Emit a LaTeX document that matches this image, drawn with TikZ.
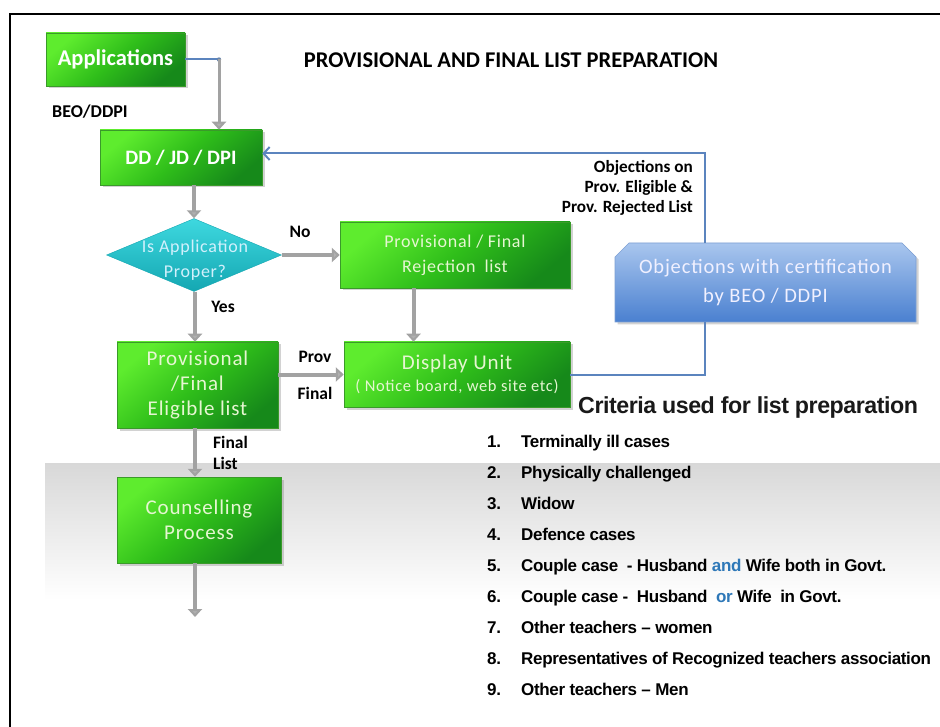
\documentclass[tikz,border=0pt]{standalone}
\usepackage{fontspec}
\setmainfont{Carlito}
\newfontfamily\boxfont{Carlito}[LetterSpace=4]
\newfontfamily\listfont{Liberation Sans}[LetterSpace=-2]
\usetikzlibrary{shapes.geometric,shapes.misc,arrows.meta,shadows,calc}

\definecolor{gTop}{HTML}{5EEC2E}
\definecolor{gMid}{HTML}{2FBE1A}
\definecolor{gBot}{HTML}{16891A}
\definecolor{gEdge}{HTML}{3A9A2A}
\definecolor{gText}{HTML}{E6F6D2}
\definecolor{cTop}{HTML}{3ED8DF}
\definecolor{cBot}{HTML}{14A7B2}
\definecolor{bTop}{HTML}{A9C6EE}
\definecolor{bBot}{HTML}{4A80D0}
\definecolor{bEdge}{HTML}{7C9FD4}
\definecolor{lineblue}{HTML}{5B84BE}
\definecolor{arrowgray}{HTML}{A2A2A2}
\definecolor{andblue}{HTML}{2E78B8}
\definecolor{bandgray}{HTML}{D8D8D8}

\begin{document}
\begin{tikzpicture}[x=1pt,y=-1pt,
  boxshadow/.style={drop shadow={opacity=0.35,shadow xshift=2.5pt,shadow yshift=-2.5pt}},
  gbox/.style={rectangle, draw=gEdge, line width=0.5pt,
    top color=gTop, bottom color=gBot, middle color=gMid, shading angle=40,
    boxshadow, inner sep=0pt, align=center,
    font=\boxfont\fontsize{21}{25}\selectfont, text=gText},
  gboxbold/.style={gbox, font=\bfseries\fontsize{22.5}{25}\selectfont, text=white},
  decision/.style={diamond, inner sep=0pt, draw=cBot, line width=0.4pt,
    top color=cTop, bottom color=cBot},
  objbox/.style={chamfered rectangle, chamfered rectangle corners={north west,north east},
    chamfered rectangle xsep=7pt, chamfered rectangle ysep=7pt,
    draw=bEdge, line width=0.6pt, top color=bTop, bottom color=bBot,
    boxshadow, inner sep=0pt, align=center,
    font=\boxfont\fontsize{20.5}{29}\selectfont, text=white!94!blue},
  garrow/.style={draw=arrowgray, line width=4pt,
    -{Triangle[width=14pt,length=8pt,fill=arrowgray!85!white]}},
  bline/.style={draw=lineblue, line width=2pt},
  flowlabel/.style={font=\bfseries\fontsize{17.5}{21}\selectfont, text=black, inner sep=0pt},
  listnum/.style={anchor=base west, inner sep=0pt, font=\listfont\bfseries\fontsize{17}{20}\selectfont},
  listitem/.style={anchor=base west, inner sep=0pt, font=\listfont\bfseries\fontsize{17}{20}\selectfont}
]
\useasboundingbox (0,0) rectangle (940,727);
\fill[white] (0,0) rectangle (940,727);

% soft grey band behind the lower part
\shade[top color=bandgray, bottom color=white] (45,463) rectangle (940,600);

% frame
\draw[line width=2pt] (10,727) -- (10,14) -- (940,14);

% title
\node[font=\bfseries\fontsize{22.5}{26}\selectfont, inner sep=0pt] (title) at (511,60)
  {PROVISIONAL AND FINAL LIST PREPARATION};

% flowchart boxes
\node[gboxbold, minimum width=139pt, minimum height=53pt] (app) at (115.5,59.5) {Applications};
\node[flowlabel, anchor=west, font=\bfseries\fontsize{18}{20}\selectfont] (beo) at (52,112) {BEO/DDPI};
\node[gboxbold, minimum width=162pt, minimum height=55pt, font=\bfseries\fontsize{20.5}{25}\selectfont] (dd) at (181,157.5) {DD / JD / DPI};
\node[decision, minimum width=175pt, minimum height=73pt] (dia) at (194,255) {};
\node[align=center, inner sep=0pt, font=\boxfont\fontsize{18}{25}\selectfont, text=white!82!cyan] (diatext) at (195,260.5) {Is Application\\Proper?};
\node[gbox, minimum width=230pt, minimum height=66pt, font=\boxfont\fontsize{18}{25}\selectfont] (rej) at (455,255) {Provisional / Final\\Rejection\enspace list};
\node[gbox, minimum width=161pt, minimum height=86pt] (elig) at (197.5,385) {Provisional\\/Final\\Eligible list};
\node[gbox, minimum width=226pt, minimum height=65pt] (disp) at (457,374.5)
  {Display Unit\\[-3pt]{\fontsize{16.5}{20}\selectfont( Notice board, web site etc)}};
\node[objbox, minimum width=301pt, minimum height=79pt] (obj) at (765.5,282.5)
  {Objections with certification\\by BEO / DDPI};
\node[gbox, minimum width=164pt, minimum height=86pt] (couns) at (199,520) {Counselling\\Process};

% connector coordinates
\coordinate (ja) at (219,59.5);
\coordinate (objlow) at ($(obj.south west)!0.3!(obj.south east)$);
\coordinate (objhigh) at (objlow |- obj.north);
\coordinate (rejout) at ($(rej.south west)!0.32!(rej.south east)$);
\coordinate (eligout) at ([xshift=-2.5pt]elig.south);
\coordinate (endpt) at (195,617);

% connectors
\draw[bline] (app.east) -- (ja);
\fill[lineblue!70!gray] (ja) circle (2.2pt);
\draw[garrow, line width=3pt] (ja) -- (ja |- dd.north);
\draw[garrow] (dia.north |- dd.south) -- (dia.north);
\draw[garrow] (dia.east) -- (dia.east -| rej.west);
\draw[garrow] (dia.south -| eligout) -- (eligout |- elig.north);
\draw[garrow] (rejout) -- (rejout |- disp.north);
\draw[garrow] (elig.east |- disp.west) -- (disp.west);
\draw[garrow] (eligout) -- (eligout |- couns.north);
\draw[garrow] (couns.south -| eligout) -- (endpt);
\draw[bline] (disp.east) -| (objlow);
\draw[bline, -{Straight Barb[length=6pt,width=13pt]}] (objhigh) |- ([yshift=4pt]dd.east);

% connector labels
\node[flowlabel] (lno) at (300,232) {No};
\node[flowlabel] (lyes) at (223,307) {Yes};
\node[flowlabel] (lprov) at (315,357) {Prov};
\node[flowlabel] (lfinal) at (315,393) {Final};
\node[flowlabel, anchor=west, align=left] (lfl) at (213,453) {Final\\List};
\node[flowlabel, anchor=east, align=right, font=\bfseries\fontsize{17.2}{20}\selectfont] (lobj) at (693,188)
  {Objections on\\Prov. Eligible \&\\Prov. Rejected List};

% criteria list
\node[anchor=west, inner sep=0pt, font=\listfont\bfseries\fontsize{23.2}{26}\selectfont, text=black!90] (crit) at (578,408)
  {Criteria used for list preparation};
\foreach \i/\t in {
  1/{Terminally ill cases},
  2/{Physically challenged},
  3/{Widow},
  4/{Defence cases},
  5/{Couple case\enspace- Husband \textcolor{andblue}{and} Wife both in Govt.},
  6/{Couple case -\enspace Husband\enspace \textcolor{andblue}{or} Wife\enspace in Govt.},
  7/{Other teachers – women},
  8/{Representatives of Recognized teachers association},
  9/{Other teachers – Men}} {
  \node[listnum] (num\i) at (487,416+31*\i) {\i.};
  \node[listitem] (item\i) at (521,416+31*\i) {\t};
}
\end{tikzpicture}
\end{document}
